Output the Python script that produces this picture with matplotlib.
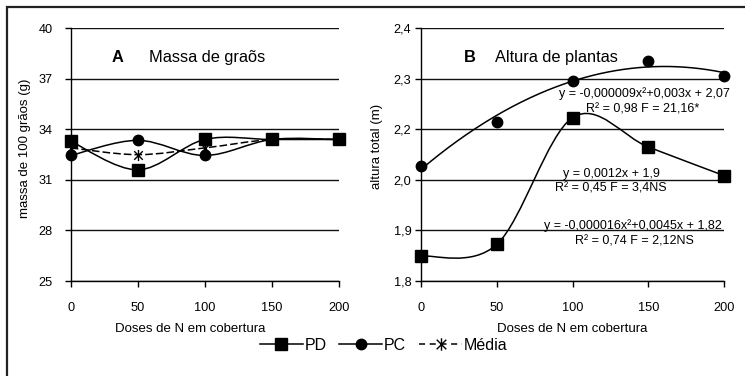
import numpy as np
import matplotlib
matplotlib.use("Agg")
import matplotlib.pyplot as plt
from matplotlib.path import Path
from matplotlib.patches import PathPatch, Rectangle
from matplotlib.lines import Line2D
from matplotlib.ticker import FuncFormatter

plt.rcParams['font.family'] = ['Liberation Sans', 'DejaVu Sans']

# data
doses = [0, 50, 100, 150, 200]

# A - massa de 100 graos (g)
pd_a = [33.3, 31.6, 33.4, 33.4, 33.4]
pc_a = [32.45, 33.35, 32.45, 33.4, 33.4]
media_a = [32.9, 32.5, 32.9, 33.4, 33.4]

# B - altura total (m)
pd_b = [1.859, 1.887, 2.188, 2.118, 2.05]
pc_b = [2.073, 2.177, 2.276, 2.323, 2.287]

W, H = 745, 376


def px(x, y):
    # pixel position -> figure fraction
    return x / W, 1 - y / H


def smooth_path(x, y):
    # excel-like smoothed line (catmull-rom as bezier)
    pts = np.column_stack([x, y]).astype(float)
    n = len(pts)
    verts = [pts[0]]
    codes = [Path.MOVETO]
    for i in range(n - 1):
        p0 = pts[max(i - 1, 0)]
        p1 = pts[i]
        p2 = pts[i + 1]
        p3 = pts[min(i + 2, n - 1)]
        c1 = p1 + (p2 - p0) / 6.
        c2 = p2 - (p3 - p1) / 6.
        verts += [c1, c2, p2]
        codes += [Path.CURVE4] * 3
    return Path(verts, codes)


star = Path([(-1, -1), (1, 1), (-1, 1), (1, -1), (0, -1.3), (0, 1.3)],
            [Path.MOVETO, Path.LINETO, Path.MOVETO, Path.LINETO, Path.MOVETO, Path.LINETO])

fig = plt.figure(figsize=(W / 100, H / 100), dpi=100)

# frame around the whole figure
fig.patches.append(Rectangle(px(7.5, 400), 800 / W, (400 - 7) / H, transform=fig.transFigure,
                             fill=False, edgecolor='#222222', lw=1.6))

axA = fig.add_axes([70.7 / W, 1 - 281 / H, 268 / W, (281 - 28.3) / H])
axB = fig.add_axes([421 / W, 1 - 281 / H, 303.3 / W, (281 - 28.3) / H])

lw = 1.1
msq = 8.5
mci = 7.5

for ax in (axA, axB):
    ax.set_xlim(0, 200)
    ax.set_xticks(doses)
    for s in ('top', 'right'):
        ax.spines[s].set_visible(False)
    for s in ('left', 'bottom'):
        ax.spines[s].set_linewidth(1.0)
    ax.grid(axis='y', color='#111111', lw=1.0)
    ax.set_axisbelow(True)
    ax.tick_params(axis='x', direction='out', length=4, width=1.0, pad=11, labelsize=9.2)
    ax.tick_params(axis='y', direction='out', length=4, width=1.0, labelsize=9.2)
    ax.patch.set_visible(False)

# panel A
axA.set_ylim(25, 40)
axA.set_yticks([25, 28, 31, 34, 37, 40])
axA.tick_params(axis='y', pad=9)
for ys in (pd_a, pc_a):
    axA.add_patch(PathPatch(smooth_path(doses, ys), fill=False, lw=lw, ec='k', zorder=3, clip_on=False))
pm = PathPatch(smooth_path(doses, media_a), fill=False, lw=lw, ec='k', zorder=3, clip_on=False)
pm.set_linestyle((0, (5, 2)))
axA.add_patch(pm)
axA.plot(doses, media_a, ls='none', marker=star, ms=8, mec='k', mew=1.0, zorder=4, clip_on=False)
axA.plot(doses, pc_a, ls='none', marker='o', ms=mci, color='k', zorder=5, clip_on=False)
axA.plot(doses, pd_a, ls='none', marker='s', ms=msq, color='k', zorder=6, clip_on=False)

# panel B
axB.set_ylim(1.8, 2.4)
axB.set_yticks(np.arange(1.8, 2.41, 0.12))
axB.yaxis.set_major_formatter(FuncFormatter(lambda v, p: ('%.1f' % v).replace('.', ',')))
axB.tick_params(axis='y', pad=3)
axB.add_patch(PathPatch(smooth_path(doses, pd_b), fill=False, lw=lw, ec='k', zorder=3, clip_on=False))
coef = np.polyfit(doses, pc_b, 2)
xx = np.linspace(0, 200, 200)
axB.plot(xx, np.polyval(coef, xx), color='k', lw=lw, zorder=3, clip_on=False)
axB.plot(doses, pc_b, ls='none', marker='o', ms=mci, color='k', zorder=5, clip_on=False)
axB.plot(doses, pd_b, ls='none', marker='s', ms=msq, color='k', zorder=6, clip_on=False)

# labels
fig.text(*px(25, 148), 'massa de 100 grãos (g)', rotation=90, ha='center', va='center', fontsize=9.5)
fig.text(*px(377, 146), 'altura total (m)', rotation=90, ha='center', va='center', fontsize=9.5)
fig.text(*px(190, 329), 'Doses de N em cobertura', ha='center', va='center', fontsize=9.5)
fig.text(*px(572.5, 329), 'Doses de N em cobertura', ha='center', va='center', fontsize=9.5)

fig.text(*px(112, 61.7), 'A', fontsize=11.8, fontweight='bold', va='baseline')
fig.text(*px(149, 61.7), 'Massa de graõs', fontsize=11.8, va='baseline')
fig.text(*px(464, 61.7), 'B', fontsize=11.8, fontweight='bold', va='baseline')
fig.text(*px(495, 61.7), 'Altura de plantas', fontsize=11.8, va='baseline')

eqs = [
    (644, 96.7, 'y = -0,000009x²+0,003x + 2,07'),
    (643, 112.7, 'R² = 0,98 F = 21,16*'),
    (611, 177, 'y = 0,0012x + 1,9'),
    (611, 192, 'R² = 0,45 F = 3,4NS'),
    (633, 228.7, 'y = -0,000016x²+0,0045x + 1,82'),
    (634, 245, 'R² = 0,74 F = 2,12NS'),
]
for x, y, s in eqs:
    fig.text(*px(x, y), s, ha='center', va='baseline', fontsize=9)

# legend
handles = [
    Line2D([], [], color='k', lw=lw, marker='s', ms=msq),
    Line2D([], [], color='k', lw=lw, marker='o', ms=mci),
    Line2D([], [], color='k', lw=lw, ls=(0, (4, 3)), marker=star, ms=9, mew=1.0),
]
fig.legend(handles, ['PD', 'PC', 'Média'], ncol=3, loc='center', bbox_to_anchor=px(383.5, 345),
           frameon=False, fontsize=11.5, handlelength=2.7, handletextpad=0.1, columnspacing=0.8,
           borderpad=0, borderaxespad=0)

fig.savefig('out.png', dpi=100)
